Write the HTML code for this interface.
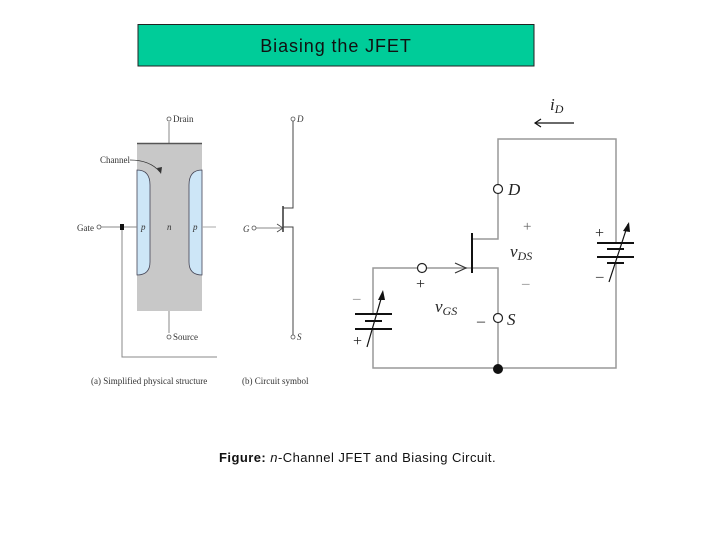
<!DOCTYPE html>
<html><head><meta charset="utf-8"><style>
body{margin:0;background:#fff;width:720px;height:540px;overflow:hidden}
svg{display:block}
</style></head><body>
<svg width="720" height="540" viewBox="0 0 720 540" xmlns="http://www.w3.org/2000/svg">
<rect x="138" y="24.5" width="396" height="41.5" fill="#00CC99" stroke="#222" stroke-width="1"/>
<text x="336" y="52" text-anchor="middle" font-family="Liberation Sans, sans-serif" font-size="18" letter-spacing="0.9" fill="#111">Biasing the JFET</text>

<!-- physical structure -->
<g font-family="Liberation Serif, serif" font-size="9" fill="#333">
<line x1="169" y1="122" x2="169" y2="143" stroke="#888"/>
<rect x="137" y="143" width="65" height="168" fill="#c8c8c8"/>
<line x1="137" y1="143.5" x2="202" y2="143.5" stroke="#555" stroke-width="1.5"/>
<path d="M137 170 Q150 170 150 185 L150 262 Q150 275 137 275 Z" fill="#cde6f7" stroke="#445" stroke-width="0.8"/>
<path d="M202 170 Q189 170 189 185 L189 262 Q189 275 202 275 Z" fill="#cde6f7" stroke="#445" stroke-width="0.8"/>
<line x1="169" y1="311" x2="169" y2="333" stroke="#888"/>
<circle cx="169" cy="119" r="2" fill="none" stroke="#555" stroke-width="0.8"/>
<text x="173" y="122">Drain</text>
<circle cx="169" cy="337" r="2" fill="none" stroke="#555" stroke-width="0.8"/>
<text x="173" y="340">Source</text>
<text x="100" y="163">Channel</text>
<path d="M130 160 Q150 160 160 172" fill="none" stroke="#333" stroke-width="0.8"/>
<path d="M157 168 L161 174 L162 167 Z" fill="#333"/>
<text x="77" y="231">Gate</text>
<circle cx="99" cy="227" r="2" fill="none" stroke="#555" stroke-width="0.8"/>
<line x1="101" y1="227" x2="137" y2="227" stroke="#888"/>
<line x1="202" y1="227" x2="216" y2="227" stroke="#aaa"/>
<rect x="120" y="224" width="4" height="6" fill="#111"/>
<polyline points="122,230 122,357 217,357" fill="none" stroke="#888"/>
<text x="141" y="230" font-style="italic">p</text>
<text x="167" y="230" font-style="italic">n</text>
<text x="193" y="230" font-style="italic">p</text>
<text x="91" y="384">(a) Simplified physical structure</text>
<!-- symbol -->
<circle cx="293" cy="119" r="2" fill="none" stroke="#555" stroke-width="0.8"/>
<text x="297" y="122" font-style="italic">D</text>
<polyline points="293,121 293,208 283,208" fill="none" stroke="#444"/>
<line x1="283" y1="206" x2="283" y2="232" stroke="#333" stroke-width="1.5"/>
<polyline points="283,227 293,227 293,335" fill="none" stroke="#444"/>
<line x1="256" y1="228" x2="283" y2="228" stroke="#888"/>
<polyline points="277,224 283,228 277,232" fill="none" stroke="#444" stroke-width="0.8"/>
<text x="243" y="232" font-style="italic">G</text>
<circle cx="254" cy="228" r="2" fill="none" stroke="#555" stroke-width="0.8"/>
<circle cx="293" cy="337" r="2" fill="none" stroke="#555" stroke-width="0.8"/>
<text x="297" y="340" font-style="italic">S</text>
<text x="242" y="384">(b) Circuit symbol</text>
</g>

<!-- bias circuit -->
<g stroke="#999" stroke-width="1.5" fill="none">
<polyline points="498,184 498,139 616,139 616,243"/>
<polyline points="616,263 616,368 373,368 373,329"/>
<polyline points="373,314 373,268 417,268"/>
<line x1="427" y1="268" x2="472" y2="268"/>
<polyline points="498,194 498,239 472,239"/>
<polyline points="472,268 498,268 498,313"/>
<line x1="498" y1="323" x2="498" y2="368"/>
</g>
<g stroke="#111" stroke-width="2" fill="none">
<line x1="472" y1="233" x2="472" y2="273"/>
<polyline points="455,263 466,268 455,273" stroke="#333" stroke-width="1.2"/>
<line x1="355" y1="314" x2="392" y2="314"/>
<line x1="365" y1="321" x2="382" y2="321"/>
<line x1="355" y1="329" x2="392" y2="329"/>
<line x1="597" y1="243" x2="634" y2="243"/>
<line x1="607" y1="249" x2="624" y2="249"/>
<line x1="597" y1="257" x2="634" y2="257"/>
<line x1="607" y1="263" x2="624" y2="263"/>
<line x1="367" y1="347" x2="383" y2="292" stroke-width="1.2"/>
<line x1="609" y1="282" x2="628" y2="224" stroke-width="1.2"/>
<line x1="535" y1="123" x2="574" y2="123" stroke-width="1.2"/>
<polyline points="541,119 535,123 541,127" stroke-width="1.2"/>
</g>
<path d="M383 290 L378 300 L385 300 Z" fill="#111"/>
<path d="M629 222 L623 231 L630 232 Z" fill="#111"/>
<circle cx="498" cy="189" r="4.5" fill="#fff" stroke="#222" stroke-width="1.2"/>
<circle cx="422" cy="268" r="4.5" fill="#fff" stroke="#222" stroke-width="1.2"/>
<circle cx="498" cy="318" r="4.5" fill="#fff" stroke="#222" stroke-width="1.2"/>
<circle cx="498" cy="369" r="5" fill="#111"/>
<g font-family="Liberation Serif, serif" fill="#222">
<text x="508" y="195" font-size="17" font-style="italic">D</text>
<text x="507" y="325" font-size="17" font-style="italic">S</text>
<text x="510" y="257" font-size="17" font-style="italic">v<tspan font-size="12" dy="3">DS</tspan></text>
<text x="435" y="312" font-size="17" font-style="italic">v<tspan font-size="12" dy="3">GS</tspan></text>
<text x="550" y="110" font-size="17" font-style="italic">i<tspan font-size="12" dy="3">D</tspan></text>
<text x="523" y="231" font-size="15" fill="#666">+</text>
<text x="522" y="288" font-size="15" fill="#888">–</text>
<text x="416" y="289" font-size="16">+</text>
<text x="477" y="326" font-size="16">–</text>
<text x="595" y="238" font-size="16">+</text>
<text x="596" y="281" font-size="15">–</text>
<text x="353" y="303" font-size="15" fill="#888">–</text>
<text x="353" y="346" font-size="16">+</text>
</g>

<text x="219" y="462" font-family="Liberation Sans, sans-serif" font-size="13" letter-spacing="0.45" fill="#111"><tspan font-weight="bold">Figure:</tspan> <tspan font-style="italic">n</tspan>-Channel JFET and Biasing Circuit.</text>
</svg>
</body></html>
